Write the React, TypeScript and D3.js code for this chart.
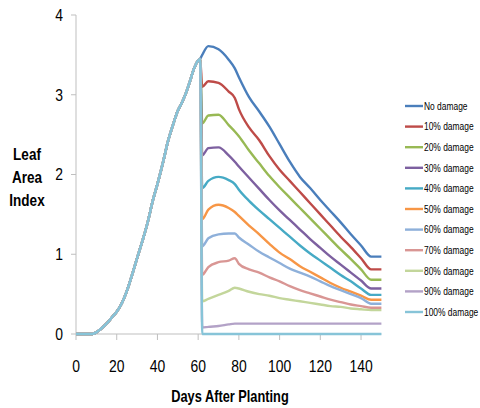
import React from 'react';
import * as d3 from 'd3';

// shared growth curve up to the damage event
const preDays = [0, 5, 8, 10, 12, 15, 18, 20, 22, 25, 28, 30, 33, 35, 38, 40, 43, 45, 48, 50, 52, 54, 56, 58, 60, 61];
const preLAI = [0, 0, 0, 0.02, 0.06, 0.13, 0.22, 0.28, 0.36, 0.54, 0.78, 0.95, 1.2, 1.38, 1.7, 1.88, 2.18, 2.4, 2.65, 2.8, 2.9, 3.02, 3.17, 3.33, 3.43, 3.45];

// after damage
const postDays = [62, 65, 70, 75, 78, 80, 85, 90, 95, 100, 105, 110, 115, 120, 125, 130, 135, 140, 145, 150];
const noDamage = [3.5, 3.61, 3.57, 3.44, 3.33, 3.22, 2.97, 2.79, 2.6, 2.38, 2.16, 1.97, 1.83, 1.68, 1.54, 1.4, 1.25, 1.11, 0.97, 0.97];
const dmg10 = [3.1, 3.17, 3.15, 3.04, 2.96, 2.82, 2.59, 2.43, 2.23, 2.06, 1.92, 1.78, 1.64, 1.5, 1.36, 1.22, 1.09, 0.95, 0.81, 0.81];
const dmg20 = [2.64, 2.74, 2.75, 2.62, 2.54, 2.48, 2.3, 2.14, 1.98, 1.84, 1.71, 1.58, 1.45, 1.32, 1.19, 1.06, 0.94, 0.81, 0.68, 0.68];
const dmg30 = [2.24, 2.33, 2.34, 2.24, 2.16, 2.1, 1.96, 1.82, 1.68, 1.55, 1.43, 1.31, 1.19, 1.08, 0.97, 0.87, 0.77, 0.67, 0.57, 0.57];
const dmg40 = [1.83, 1.92, 1.97, 1.93, 1.88, 1.81, 1.67, 1.55, 1.44, 1.33, 1.22, 1.11, 1.01, 0.92, 0.83, 0.74, 0.66, 0.57, 0.49, 0.49];
const dmg50 = [1.44, 1.56, 1.62, 1.58, 1.53, 1.48, 1.36, 1.25, 1.13, 1.02, 0.94, 0.85, 0.78, 0.71, 0.64, 0.58, 0.53, 0.48, 0.43, 0.43];
const dmg60 = [1.1, 1.2, 1.25, 1.26, 1.26, 1.21, 1.12, 1.03, 0.96, 0.89, 0.82, 0.77, 0.72, 0.66, 0.6, 0.55, 0.5, 0.45, 0.38, 0.38];
const dmg70 = [0.74, 0.84, 0.9, 0.92, 0.95, 0.88, 0.81, 0.77, 0.71, 0.66, 0.6, 0.55, 0.51, 0.47, 0.43, 0.4, 0.37, 0.35, 0.33, 0.33];
const dmg80 = [0.41, 0.44, 0.49, 0.54, 0.58, 0.57, 0.53, 0.5, 0.48, 0.45, 0.43, 0.41, 0.39, 0.37, 0.35, 0.34, 0.32, 0.31, 0.3, 0.3];
const dmg90 = [0.08, 0.09, 0.1, 0.12, 0.13, 0.13, 0.13, 0.13, 0.13, 0.13, 0.13, 0.13, 0.13, 0.13, 0.13, 0.13, 0.13, 0.13, 0.13, 0.13];
const dmg100 = [0, 0, 0, 0, 0, 0, 0, 0, 0, 0, 0, 0, 0, 0, 0, 0, 0, 0, 0, 0];

const seriesNames = ['No damage', '10% damage', '20% damage', '30% damage', '40% damage', '50% damage', '60% damage', '70% damage', '80% damage', '90% damage', '100% damage'];
const seriesPost = [noDamage, dmg10, dmg20, dmg30, dmg40, dmg50, dmg60, dmg70, dmg80, dmg90, dmg100];
const colors = ['#4a7ebb', '#be4b48', '#98b954', '#7d60a0', '#46aac5', '#f79646', '#8eb0da', '#d99694', '#c3d69b', '#b3a2c7', '#87c4d8'];

const xTicks = [0, 20, 40, 60, 80, 100, 120, 140];
const yTicks = [0, 1, 2, 3, 4];

const font = '"Liberation Sans", Arial, sans-serif';
const sx = 0.82;

export default function App() {
  const x = d3.scaleLinear().domain([0, 150]).range([76, 381.4]);
  const y = d3.scaleLinear().domain([0, 4]).range([334, 15]);

  const line = d3
    .line<[number, number]>()
    .x(d => x(d[0]))
    .y(d => y(d[1]))
    .curve(d3.curveMonotoneX);

  const pts = (post: number[]): [number, number][] => [
    ...preDays.map((d, i) => [d, preLAI[i]] as [number, number]),
    ...postDays.map((d, i) => [d, post[i]] as [number, number]),
  ];

  const axisColor = '#bfbfbf';

  return (
    <svg width={480} height={408} style={{ position: 'absolute', left: 0, top: 0, background: '#fff' }} fontFamily={font}>
      {/* y axis */}
      <line x1={76} x2={76} y1={y(4)} y2={y(0)} stroke={axisColor} strokeWidth={1} />
      {yTicks.map(t => (
        <g key={t}>
          <line x1={71} x2={76} y1={y(t)} y2={y(t)} stroke={axisColor} />
          <text transform={`translate(63,${y(t)}) scale(${sx},1)`} textAnchor="end" dy="0.35em" fontSize={17} fill="#000">
            {t}
          </text>
        </g>
      ))}
      {/* x axis */}
      <line x1={x(0)} x2={x(150)} y1={y(0)} y2={y(0)} stroke={axisColor} strokeWidth={1} />
      {xTicks.map(t => (
        <g key={t}>
          <line x1={x(t)} x2={x(t)} y1={334} y2={340} stroke={axisColor} />
          <text transform={`translate(${x(t)},372) scale(${sx},1)`} textAnchor="middle" fontSize={17} fill="#000">
            {t}
          </text>
        </g>
      ))}

      {seriesPost.map((post, i) => (
        <path key={i} d={line(pts(post)) || ''} fill="none" stroke={colors[i]} strokeWidth={2.4} strokeLinejoin="round" />
      ))}

      {/* axis titles */}
      {['Leaf', 'Area', 'Index'].map((w, i) => (
        <text key={w} transform={`translate(27,${160 + i * 23}) scale(${sx},1)`} textAnchor="middle" fontSize={16.5} fontWeight="bold" fill="#000">
          {w}
        </text>
      ))}
      <text transform={`translate(230,402) scale(0.8,1)`} textAnchor="middle" fontSize={16} fontWeight="bold" fill="#000">
        Days After Planting
      </text>

      {/* legend */}
      {seriesNames.map((n, i) => {
        const ly = 106 + i * 20.6;
        return (
          <g key={n}>
            <line x1={405} x2={423} y1={ly} y2={ly} stroke={colors[i]} strokeWidth={2.4} />
            <text transform={`translate(424,${ly}) scale(0.78,1)`} dy="0.35em" fontSize={10.8} fill="#000">
              {n}
            </text>
          </g>
        );
      })}
    </svg>
  );
}
